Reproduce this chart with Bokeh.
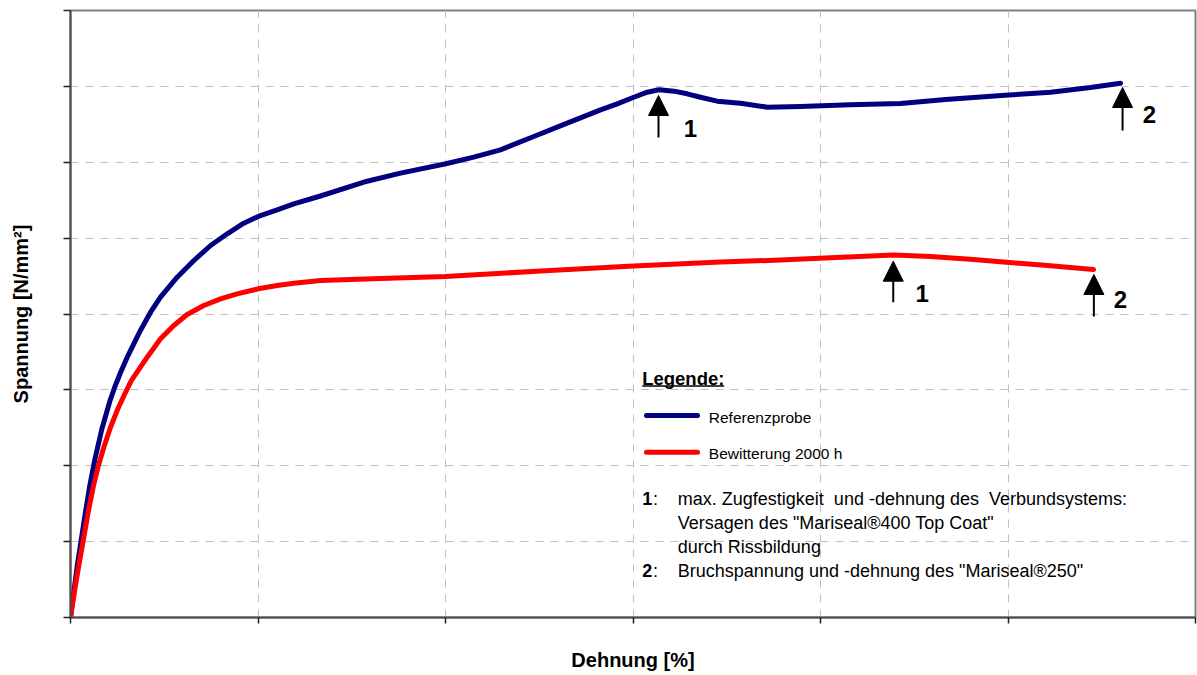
from bokeh.plotting import figure
from bokeh.models import (ColumnDataSource, Arrow, NormalHead, Label, FixedTicker, Range1d,
                          CustomJSTickFormatter)
from bokeh.embed import file_html
from bokeh.resources import INLINE

# ---- data -------------------------------------------------------------
x_ticks = [0, 1, 2, 3, 4, 5, 6]
y_ticks = [0, 1, 2, 3, 4, 5, 6, 7, 8]

x_title = "Dehnung [%]"
y_title = "Spannung [N/mm²]"

series_names = ["Referenzprobe", "Bewitterung 2000 h"]
series_colors = ["#000080", "#ff0000"]

ref_x = [0.0, 0.011, 0.023, 0.037, 0.056, 0.077, 0.101, 0.131, 0.168, 0.211, 0.237,
         0.267, 0.302, 0.373, 0.427, 0.48, 0.569, 0.658, 0.747, 0.836, 0.924, 1.013,
         1.102, 1.191, 1.333, 1.582, 1.76, 2.002, 2.151, 2.293, 2.471, 2.649,
         2.827, 2.916, 3.004, 3.076, 3.138, 3.218, 3.289, 3.36, 3.449, 3.573, 3.716,
         3.893, 4.16, 4.427, 4.667, 5.003, 5.227, 5.44, 5.6]
ref_y = [0.0, 0.211, 0.435, 0.699, 1.002, 1.344, 1.713, 2.096, 2.491, 2.86, 3.045,
         3.229, 3.427, 3.783, 4.024, 4.222, 4.485, 4.705, 4.903, 5.057, 5.197, 5.298,
         5.373, 5.452, 5.555, 5.75, 5.856, 5.98, 6.067, 6.164, 6.339, 6.515,
         6.691, 6.77, 6.857, 6.923, 6.955, 6.937, 6.902, 6.857, 6.805, 6.778, 6.726,
         6.735, 6.757, 6.774, 6.827, 6.886, 6.923, 6.985, 7.042]

bew_x = [0.0, 0.013, 0.029, 0.048, 0.067, 0.096, 0.123, 0.149, 0.179, 0.213, 0.251,
         0.288, 0.325, 0.409, 0.48, 0.551, 0.622, 0.711, 0.8, 0.889, 1.001, 1.102,
         1.191, 1.333, 1.653, 2.0, 2.507, 3.003, 3.467, 3.787, 4.053, 4.267, 4.389,
         4.587, 4.816, 5.008, 5.211, 5.456]
bew_y = [0.0, 0.211, 0.461, 0.738, 1.002, 1.41, 1.74, 2.003, 2.254, 2.504, 2.741,
         2.939, 3.124, 3.431, 3.673, 3.849, 3.993, 4.112, 4.2, 4.266, 4.332, 4.376,
         4.406, 4.442, 4.468, 4.494, 4.567, 4.633, 4.685, 4.711, 4.741, 4.764, 4.778,
         4.758, 4.718, 4.679, 4.639, 4.586]

# event markers (1 = max. Zugfestigkeit, 2 = Bruch)
arrow_num = ["1", "2", "1", "2"]
arrow_x = [3.136, 5.611, 4.388, 5.458]
arrow_tip_y = [6.88, 6.985, 4.696, 4.521]
arrow_tail_y = [6.326, 6.418, 4.156, 3.967]
arrow_label_x = [3.3067, 5.7547, 4.5424, 5.6]
arrow_label_y = [6.445, 6.629, 4.270, 4.191]

legend_title = "Legende:"
note_nums = ["1", "2"]
note_lines = [
    ["max. Zugfestigkeit\u00a0 und -dehnung des\u00a0 Verbundsystems:",
     "Versagen des \"Mariseal®400 Top Coat\"",
     "durch Rissbildung"],
    ["Bruchspannung und -dehnung des \"Mariseal®250\""],
]

FONT = "Liberation Sans"

# ---- figure -----------------------------------------------------------
p = figure(width=1197, height=675, output_backend="svg", toolbar_location=None,
           x_range=Range1d(0, 6), y_range=Range1d(0, 8),
           min_border_left=70, min_border_right=2, min_border_top=10, min_border_bottom=58)
p.background_fill_color = "white"
p.border_fill_color = "white"
p.outline_line_color = "#808080"
p.outline_line_width = 2

blank = CustomJSTickFormatter(code="return ''")
for ax, ticks, title, stand in ((p.xaxis[0], x_ticks, x_title, 25), (p.yaxis[0], y_ticks, y_title, 32)):
    ax.ticker = FixedTicker(ticks=ticks)
    ax.formatter = blank
    ax.major_label_standoff = 0
    ax.major_tick_in = 0
    ax.minor_tick_line_color = None
    ax.axis_line_color = "#4d4d4d"
    ax.axis_line_width = 2
    ax.major_tick_line_color = "#222222"
    ax.major_tick_line_width = 1.5
    ax.axis_label = title
    ax.axis_label_text_font = FONT
    ax.axis_label_text_font_style = "bold"
    ax.axis_label_text_font_size = "20px"
    ax.axis_label_text_color = "black"
    ax.axis_label_standoff = stand
p.xaxis[0].major_tick_out = 6
p.yaxis[0].major_tick_out = 7

for g in (p.xgrid[0], p.ygrid[0]):
    g.grid_line_color = "#c0c0c0"
    g.grid_line_dash = "8 7"
    g.grid_line_width = 1
p.xgrid[0].ticker = FixedTicker(ticks=x_ticks)
p.ygrid[0].ticker = FixedTicker(ticks=y_ticks)

# curves
p.line(ref_x, ref_y, line_color=series_colors[0], line_width=5, line_join="round", line_cap="round")
p.line(bew_x, bew_y, line_color=series_colors[1], line_width=5, line_join="round", line_cap="round")

# arrows
asrc = ColumnDataSource(dict(xs=arrow_x, ys=arrow_tail_y, xe=arrow_x, ye=arrow_tip_y))
p.add_layout(Arrow(end=NormalHead(size=20, fill_color="black", line_color="black"),
                   x_start="xs", y_start="ys", x_end="xe", y_end="ye",
                   source=asrc, line_color="black", line_width=2))
for n, lx, ly in zip(arrow_num, arrow_label_x, arrow_label_y):
    p.add_layout(Label(x=lx, y=ly, text=n, text_font=FONT, text_font_style="bold",
                       text_font_size="24px", text_align="center", text_baseline="middle",
                       text_color="black"))

# legend block
p.add_layout(Label(x=3.049, y=3.1536, text=legend_title, text_font=FONT, text_font_style="bold",
                   text_font_size="18.5px", text_baseline="middle", text_color="black"))
p.segment(x0=[3.049], y0=[3.052], x1=[3.486], y1=[3.052], line_color="black", line_width=1.5)

leg_y = [2.662, 2.1786]
for name, col, yy in zip(series_names, series_colors, leg_y):
    p.line([3.072, 3.344], [yy, yy], line_color=col, line_width=5, line_cap="round")
    p.add_layout(Label(x=3.4043, y=yy - 0.02, text=name, text_font=FONT, text_font_size="15.5px",
                       text_baseline="middle", text_color="black"))

note_y0 = [1.5644, 0.6194]
line_step = 0.3193
for num, lines, y0 in zip(note_nums, note_lines, note_y0):
    p.add_layout(Label(x=3.049, y=y0, text=num, text_font=FONT, text_font_style="bold",
                       text_font_size="18px", text_baseline="middle", text_color="black"))
    p.add_layout(Label(x=3.107, y=y0, text=":", text_font=FONT,
                       text_font_size="18px", text_baseline="middle", text_color="black"))
    for i, t in enumerate(lines):
        p.add_layout(Label(x=3.239, y=y0 - i * line_step, text=t, text_font=FONT,
                           text_font_size="18px", text_baseline="middle", text_color="black"))

open("out.html", "w").write(file_html(p, INLINE))
